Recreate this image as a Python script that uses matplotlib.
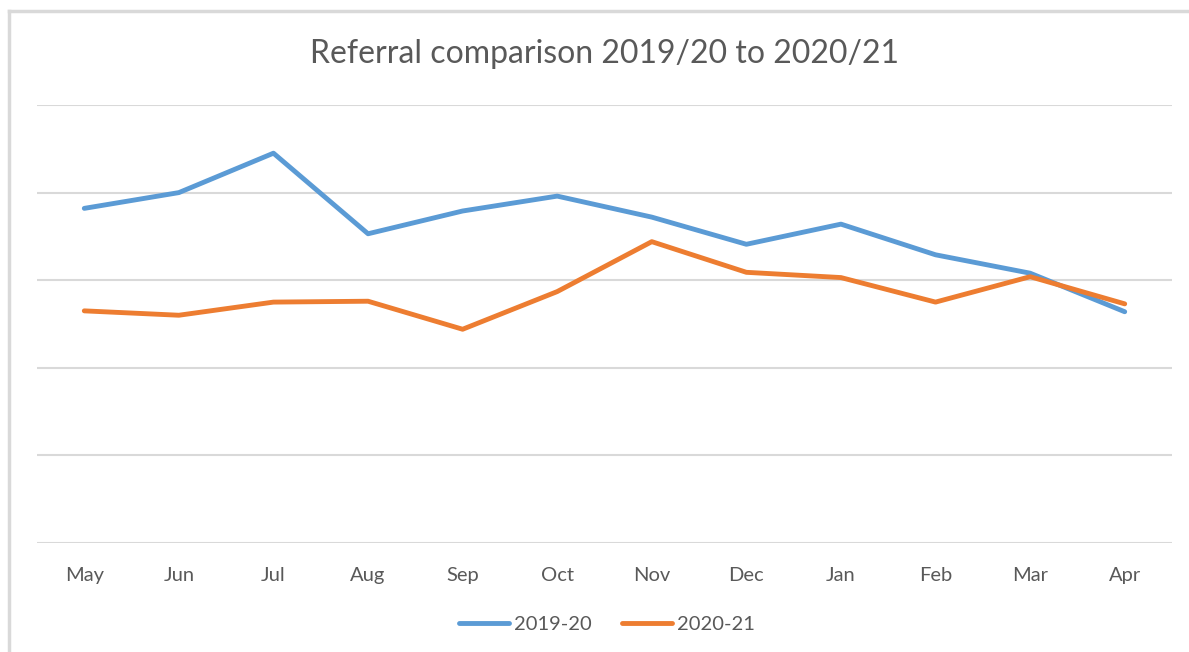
import matplotlib
matplotlib.use("Agg")
import matplotlib.pyplot as plt
from matplotlib.lines import Line2D

months = ["May", "Jun", "Jul", "Aug", "Sep", "Oct", "Nov", "Dec", "Jan", "Feb", "Mar", "Apr"]
ref_2019_20 = [3.82, 4.00, 4.45, 3.53, 3.79, 3.96, 3.72, 3.41, 3.64, 3.29, 3.08, 2.64]
ref_2020_21 = [2.65, 2.60, 2.75, 2.76, 2.44, 2.87, 3.44, 3.09, 3.03, 2.75, 3.04, 2.73]

plt.rcParams['font.family'] = ['Lato', 'DejaVu Sans']
W, H = 1189, 652
fig = plt.figure(figsize=(W / 100, H / 100), dpi=100)

# outer chart frame: only left and top edges show in the screenshot
fig.lines.append(Line2D([9 / W, 9 / W], [0, 1 - 11 / H], transform=fig.transFigure,
                        color="#d9d9d9", linewidth=2.5))
fig.lines.append(Line2D([9 / W, 1], [1 - 11 / H, 1 - 11 / H], transform=fig.transFigure,
                        color="#d9d9d9", linewidth=2.5))

ax = fig.add_axes([37 / W, 1 - 543 / H, (1172 - 37) / W, (543 - 105) / H])
x = range(len(months))
ax.plot(x, ref_2019_20, color="#5b9bd5", linewidth=3.5, label="2019-20", solid_capstyle="round")
ax.plot(x, ref_2020_21, color="#ed7d31", linewidth=3.5, label="2020-21", solid_capstyle="round")

ax.set_xlim(-0.5, len(months) - 0.5)
ax.set_ylim(0, 5)
ax.set_yticks(range(6))
ax.set_yticklabels([])
ax.grid(axis="y", color="#d9d9d9", linewidth=1.5)
ax.set_axisbelow(True)
ax.tick_params(axis="y", length=0)
ax.tick_params(axis="x", length=0, pad=17, labelsize=14.5, labelcolor="#595959")
ax.set_xticks(list(x))
ax.set_xticklabels(months)
for s in ax.spines.values():
    s.set_visible(False)

fig.text(605 / W, 1 - 54 / H, "Referral comparison 2019/20 to 2020/21", ha="center", va="center",
         fontsize=23, color="#595959")
fig.legend(loc="center", bbox_to_anchor=(607 / W, 1 - 624 / H), ncol=2, frameon=False,
           fontsize=14.5, labelcolor="#595959", handlelength=2.5, handletextpad=0.25, columnspacing=1.5)

fig.savefig("out.png", dpi=100)
